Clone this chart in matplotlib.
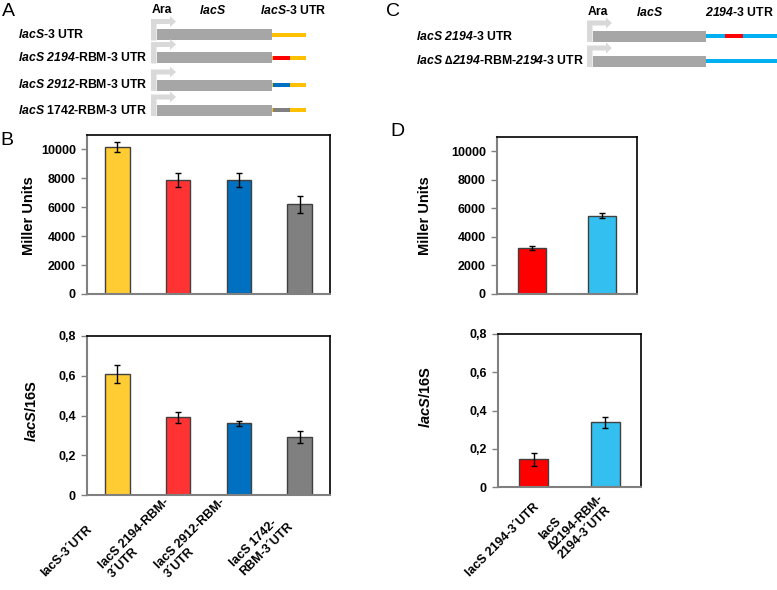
import numpy as np
import matplotlib
matplotlib.use('Agg')
import matplotlib.pyplot as plt
from matplotlib.patches import Rectangle, Polygon
from matplotlib.transforms import offset_copy

plt.rcParams['font.family'] = ['Liberation Sans', 'DejaVu Sans']
plt.rcParams['mathtext.fontset'] = 'custom'
# \mathsf is used for the italic parts so that digits are slanted too
plt.rcParams['mathtext.sf'] = 'Liberation Sans:italic:bold'
plt.rcParams['mathtext.it'] = 'Liberation Sans:italic:bold'
plt.rcParams['mathtext.rm'] = 'Liberation Sans:bold'
plt.rcParams['mathtext.bf'] = 'Liberation Sans:bold'

# ---- data: panel B ----
b_labels = ['lacS-3´UTR', 'lacS 2194-RBM-\n3´UTR', 'lacS 2912-RBM-\n3´UTR', 'lacS 1742-\nRBM-3´UTR']
b_miller = [10200, 7900, 7900, 6200]
b_miller_err = [350, 500, 500, 600]
b_ratio = [0.61, 0.39, 0.36, 0.29]
b_ratio_err = [0.045, 0.03, 0.013, 0.03]
b_colors = ['#ffcc33', '#ff3333', '#0070c0', '#808080']

# ---- data: panel D ----
d_labels = ['lacS 2194-3´UTR', 'lacS\n∆2194-RBM-\n2194-3´UTR']
d_miller = [3200, 5500]
d_miller_err = [150, 180]
d_ratio = [0.145, 0.338]
d_ratio_err = [0.035, 0.03]
d_colors = ['#ff0000', '#33bff0']

miller_ticks = [0, 2000, 4000, 6000, 8000, 10000]
miller_ticklabels = ['0', '2000', '4000', '6000', '8000', '10000']
ratio_ticks = [0, 0.2, 0.4, 0.6, 0.8]
ratio_ticklabels = ['0', '0,2', '0,4', '0,6', '0,8']

# ---- schematics (A and C) ----
a_rows = [r'$\mathsf{lacS}$-3 UTR', r'$\mathsf{lacS\ 2194}$-RBM-3 UTR',
          r'$\mathsf{lacS\ 2912}$-RBM-3 UTR', r'$\mathsf{lacS}$ 1742-RBM-3 UTR']
a_rbm = [None, '#ff0000', '#0070c0', '#808080']
c_rows = [r'$\mathsf{lacS\ 2194}$-3 UTR',
          r'$\mathsf{lacS}$ ∆$\mathsf{2194}$-RBM-$\mathsf{2194}$-3 UTR']
c_rbm = ['#ff0000', None]

# layout (pixels of the 777x590 canvas)
W, H = 777, 590
a_row_y = [34.5, 57.5, 85, 110]
c_row_y = [36, 61]
b_label_off = [(-72, 82), (-67, 82), (-71, 82), (-57, 80)]
d_label_off = [(-64, 90), (-44, 71)]


def rect_px(left, top, right, bottom):
    return [left / W, 1 - bottom / H, (right - left) / W, (bottom - top) / H]


fig = plt.figure(figsize=(W / 100, H / 100), dpi=100)


def bar_panel(rect, values, errs, colors, ymax, ticks, ticklabels, labels, offs):
    ax = fig.add_axes(rect)
    x = np.arange(len(values))
    ax.bar(x, values, width=0.4, color=colors, edgecolor='#404040', linewidth=1,
           yerr=errs, capsize=2.5,
           error_kw=dict(ecolor='black', elinewidth=1, capthick=1))
    ax.set_xlim(-0.5, len(values) - 0.5)
    ax.set_ylim(0, ymax)
    ax.set_yticks(ticks)
    ax.set_yticklabels(ticklabels, fontweight='bold', fontsize=9)
    ax.set_xticks([])
    ax.tick_params(axis='y', direction='out', length=4, width=1, color='#808080', pad=4)
    for s in ['left', 'bottom']:
        ax.spines[s].set_color('#808080')
        ax.spines[s].set_linewidth(1.5)
    for s in ['top', 'right']:
        ax.spines[s].set_color('black')
        ax.spines[s].set_linewidth(1.2)
    for i, lab in enumerate(labels):
        dx, dy = offs[i]
        tr = offset_copy(ax.transData, fig=fig, x=dx, y=-dy, units='dots')
        ax.text(i, 0, lab, transform=tr, rotation=45, rotation_mode='anchor',
                ha='left', va='baseline', multialignment='left',
                fontsize=9, fontweight='bold', clip_on=False)
    return ax


bar_panel(rect_px(87, 135, 330, 294), b_miller, b_miller_err, b_colors, 11000,
          miller_ticks, miller_ticklabels, [], [])
bar_panel(rect_px(87, 336, 330, 495), b_ratio, b_ratio_err, b_colors, 0.8,
          ratio_ticks, ratio_ticklabels, b_labels, b_label_off)
bar_panel(rect_px(497, 137, 637, 294), d_miller, d_miller_err, d_colors, 11000,
          miller_ticks, miller_ticklabels, [], [])
bar_panel(rect_px(498, 334, 641, 487), d_ratio, d_ratio_err, d_colors, 0.8,
          ratio_ticks, ratio_ticklabels, d_labels, d_label_off)

# overlay in pixel coordinates for schematics and labels
ov = fig.add_axes([0, 0, 1, 1])
ov.set_xlim(0, W)
ov.set_ylim(H, 0)
ov.axis('off')
ov.patch.set_visible(False)


def construct(x0, gene_end, utr_end, yc, utr_color, rbm_color, rbm_x):
    arrow = [(x0, yc + 6), (x0, yc - 15.5), (x0 + 19, yc - 15.5), (x0 + 19, yc - 18.5),
             (x0 + 25, yc - 13), (x0 + 19, yc - 7.5), (x0 + 19, yc - 10.5),
             (x0 + 5.5, yc - 10.5), (x0 + 5.5, yc + 6)]
    ov.add_patch(Polygon(arrow, closed=True, color='#d9d9d9', lw=0))
    ov.add_patch(Rectangle((x0 + 6, yc - 5.5), gene_end - x0 - 6, 11, color='#a6a6a6', lw=0))
    ov.add_patch(Rectangle((gene_end, yc - 2), utr_end - gene_end, 4, color=utr_color, lw=0))
    if rbm_color is not None:
        ov.add_patch(Rectangle((rbm_x[0], yc - 2), rbm_x[1] - rbm_x[0], 4, color=rbm_color, lw=0))


fs = 8.8
ov.text(2, 3, 'A', fontsize=14, va='top', ha='left')
ov.text(152, 10, 'Ara', fontsize=fs, fontweight='bold', va='center')
ov.text(213, 10, r'$\mathsf{lacS}$', fontsize=fs, fontweight='bold', va='center', ha='center')
ov.text(326, 10, r'$\mathsf{lacS}$-3 UTR', fontsize=fs, fontweight='bold', va='center', ha='right')
for i, lab in enumerate(a_rows):
    ov.text(18, a_row_y[i], lab, fontsize=fs, fontweight='bold', va='center')
    construct(151, 272, 306, a_row_y[i], '#ffc000', a_rbm[i], (273, 290))

ov.text(386, 3, 'C', fontsize=14, va='top', ha='left')
ov.text(588, 12, 'Ara', fontsize=fs, fontweight='bold', va='center')
ov.text(650, 12, r'$\mathsf{lacS}$', fontsize=fs, fontweight='bold', va='center', ha='center')
ov.text(774, 12, r'$\mathsf{2194}$-3 UTR', fontsize=fs, fontweight='bold', va='center', ha='right')
for i, lab in enumerate(c_rows):
    ov.text(416, c_row_y[i], lab, fontsize=fs, fontweight='bold', va='center')
    construct(587, 706, 777, c_row_y[i], '#00b0f0', c_rbm[i], (725, 743))

ov.text(0, 132, 'B', fontsize=14, va='top', ha='left')
ov.text(390, 123, 'D', fontsize=14, va='top', ha='left')

# y axis titles
ov.text(29, 216, 'Miller Units', fontsize=10.5, fontweight='bold', rotation=90, va='center', ha='center')
ov.text(32, 411, r'$\mathsf{lacS}$/16S', fontsize=10.5, fontweight='bold', rotation=90, va='center', ha='center')
ov.text(425, 216, 'Miller Units', fontsize=10.5, fontweight='bold', rotation=90, va='center', ha='center')
ov.text(425, 397, r'$\mathsf{lacS}$/16S', fontsize=10.5, fontweight='bold', rotation=90, va='center', ha='center')

fig.savefig('out.png', dpi=100)
